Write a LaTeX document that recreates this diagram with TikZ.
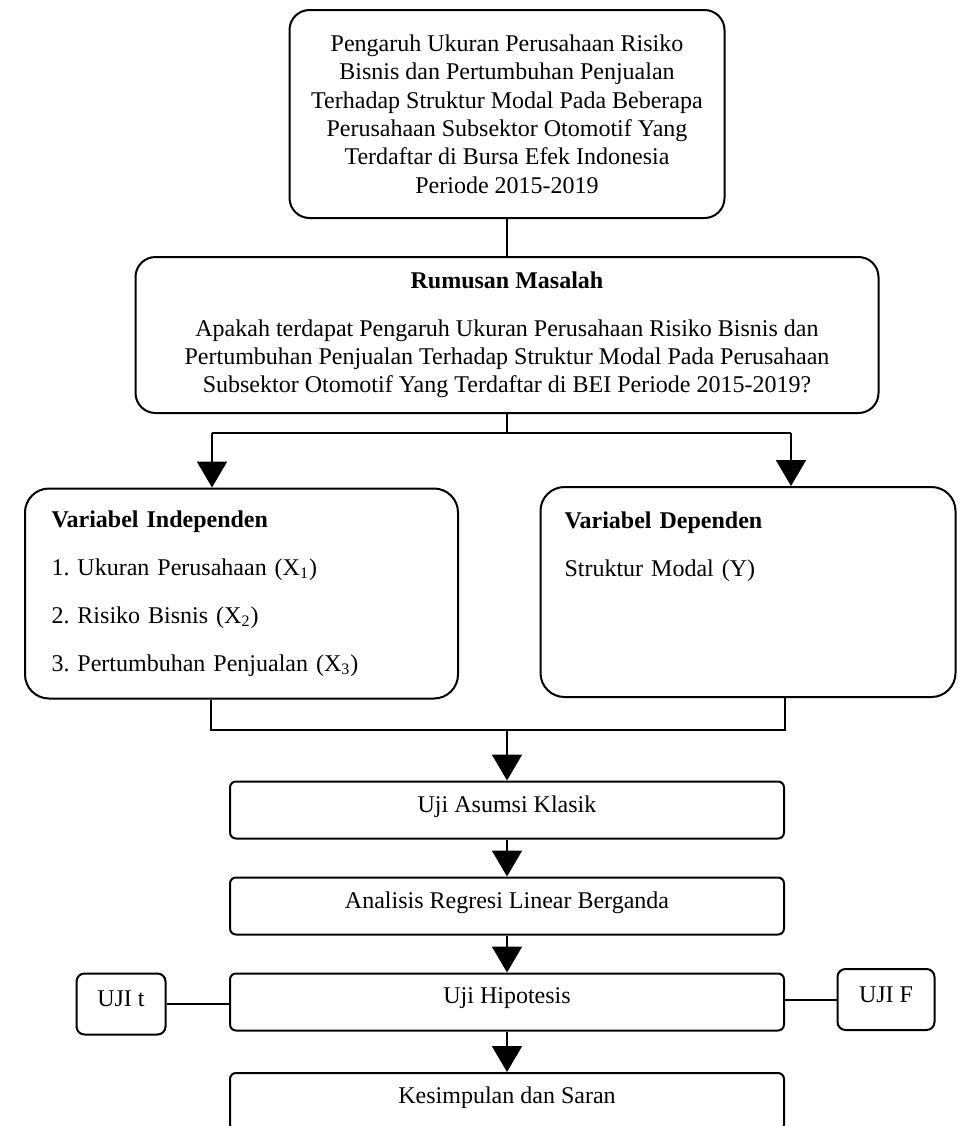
\documentclass[tikz,border=0pt]{standalone}
\usepackage{fontspec}
\setmainfont{Liberation Serif}
\usepackage{tikz}
\usetikzlibrary{arrows.meta}
\tikzstyle{arrow} = [line width=1pt,-{Triangle[width=15pt,length=13pt]}]
\tikzstyle{judulbox} = [rectangle, rounded corners=10pt, minimum width=217.5pt, minimum height=104pt,
align=center, draw=black, line width=1pt]
\tikzstyle{rmbox} = [rectangle, rounded corners=10pt, minimum width=371.5pt, minimum height=78pt,
align=center, draw=black, line width=1pt]
\tikzstyle{varbox} = [rectangle, rounded corners=12pt, minimum height=105pt, align=left, draw=black, line width=1pt]
\tikzstyle{process} = [rectangle, rounded corners=3pt, minimum width=277pt, minimum height=28.5pt,
text depth=6pt, text centered, draw=black, line width=1pt]
\tikzstyle{ujibox} = [rectangle, rounded corners=4pt, minimum height=30.5pt, text depth=5pt,
text centered, draw=black, line width=1pt]
\tikzstyle{line} = [line width=1pt]

\begin{document}
\begin{tikzpicture}[x=1pt, y=1pt, node distance=48pt, font=\fontsize{12}{14.2}\selectfont]
                 \useasboundingbox (0,0) rectangle (479,-563);
                 \node (judul) [judulbox] at (253.5,-57) {Pengaruh Ukuran Perusahaan Risiko\\
                   Bisnis dan Pertumbuhan Penjualan\\ Terhadap Struktur Modal Pada Beberapa\\
                   Perusahaan Subsektor Otomotif Yang\\ Terdaftar di Bursa Efek Indonesia\\ Periode 2015-2019};
                 \node (rm) [rmbox, below of=judul, node distance=110.5pt] {\textbf{Rumusan Masalah}\\[9.5pt]
                   Apakah terdapat Pengaruh Ukuran Perusahaan Risiko Bisnis dan\\
                   Pertumbuhan Penjualan Terhadap Struktur Modal Pada Perusahaan\\
                   Subsektor Otomotif Yang Terdaftar di BEI Periode 2015-2019?};
                 \node (vi) [varbox, text width=190pt, inner xsep=13.25pt] at (120.75,-296.75)
                   {\textbf{Variabel Independen}\\[9.8pt] 1.\ Ukuran Perusahaan (X\textsubscript{1})\\[9.8pt]
                   2.\ Risiko Bisnis (X\textsubscript{2})\\[9.8pt] 3.\ Pertumbuhan Penjualan (X\textsubscript{3})};
                 \node (vd) [varbox, text width=183.5pt, inner xsep=12pt] at (374,-296)
                   {\textbf{Variabel Dependen}\\[9.8pt] Struktur Modal (Y)\\[9.8pt] ~\\[9.8pt] ~};
                 \node (ua) [process, below of=rm, node distance=237.5pt] {Uji Asumsi Klasik};
                 \node (ar) [process, below of=ua] {Analisis Regresi Linear Berganda};
                 \node (uh) [process, below of=ar] {Uji Hipotesis};
                 \node (ks) [process, below of=uh, node distance=49.75pt] {Kesimpulan dan Saran};
                 \node (ujit) [ujibox, minimum width=44.5pt, left of=uh, node distance=193pt, yshift=-1pt] {UJI t};
                 \node (ujif) [ujibox, minimum width=48.5pt, right of=uh, node distance=189.5pt, yshift=1.25pt] {UJI F};
                 \coordinate (vin) at ([xshift=-14.75pt]vi.north);
                 \coordinate (vdn) at ([xshift=21.5pt]vd.north);
                 \coordinate (vis) at ([xshift=-15.25pt]vi.south);
                 \coordinate (vds) at ([xshift=18.5pt]vd.south);
                 \draw [line] (judul) -- (rm);
                 \draw [line] (rm.south) -- ++(0,-9.5) coordinate (cabang);
                 \draw [line] (vin |- cabang) -- (vdn |- cabang);
                 \draw [arrow] (vin |- cabang) -- (vin);
                 \draw [arrow] (vdn |- cabang) -- (vdn);
                 \draw [line] (vis) -- ++(0,-15) coordinate (gabung) -- (vds |- gabung) -- (vds);
                 \draw [arrow] (ua.north |- gabung) -- (ua);
                 \draw [arrow] (ua) -- (ar);
                 \draw [arrow] (ar) -- (uh);
                 \draw [arrow] (uh) -- (ks);
                 \draw [line] (ujit.east) -- (ujit.east -| uh.west);
                 \draw [line] (ujif.west -| uh.east) -- (ujif.west);
             \end{tikzpicture}
\end{document}
